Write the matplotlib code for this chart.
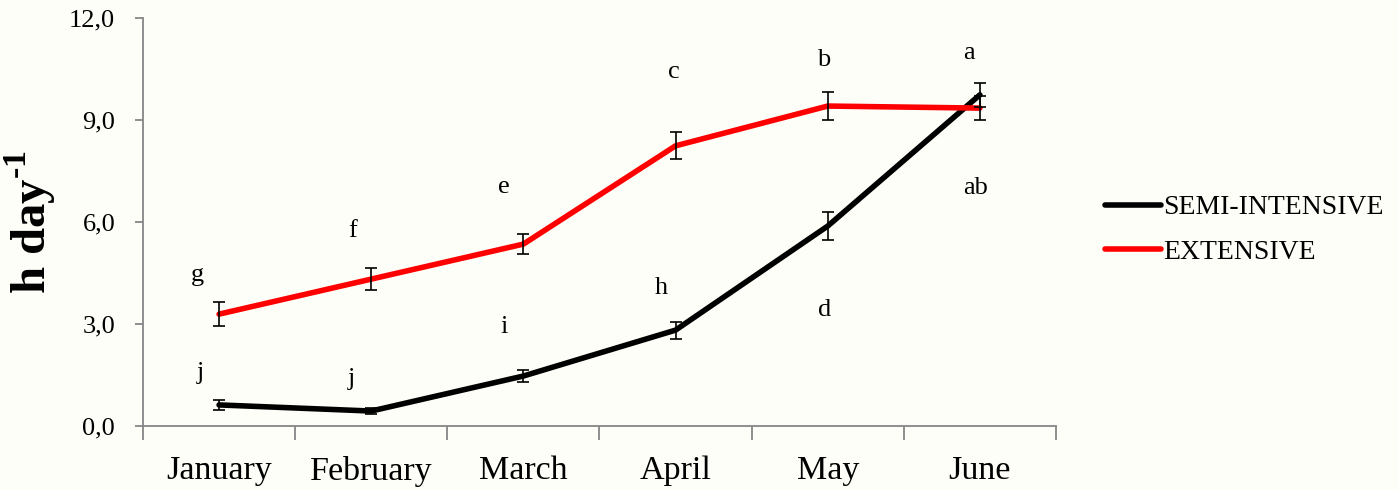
import matplotlib
matplotlib.use("Agg")
import matplotlib.pyplot as plt
from matplotlib.ticker import FuncFormatter, FixedLocator

months = ["January", "February", "March", "April", "May", "June"]
semi_vals = [0.62, 0.44, 1.47, 2.82, 5.88, 9.74]
semi_err = [0.15, 0.08, 0.17, 0.25, 0.40, 0.35]
ext_vals = [3.29, 4.32, 5.35, 8.24, 9.41, 9.35]
ext_err = [0.35, 0.32, 0.30, 0.40, 0.40, 0.35]
semi_letters = ["j", "j", "i", "h", "d", "ab"]
semi_letter_y = [1.56, 1.38, 2.91, 4.06, 3.41, 7.00]
ext_letters = ["g", "f", "e", "c", "b", "a"]
ext_letter_y = [4.44, 5.74, 7.03, 10.41, 10.76, 10.97]
yticks = [0, 3, 6, 9, 12]

BG = "#FEFEF8"
plt.rcParams["font.family"] = ["Liberation Serif", "DejaVu Serif"]
plt.rcParams["mathtext.fontset"] = "custom"
plt.rcParams["mathtext.rm"] = "Liberation Serif"
plt.rcParams["mathtext.bf"] = "Liberation Serif:bold"

fig = plt.figure(figsize=(13.99, 4.9), dpi=100, facecolor=BG)
ax = fig.add_axes([0.1022, 0.1306, 0.6526, 0.8327], facecolor=BG)

x = list(range(len(months)))
ax.plot(x, semi_vals, color="black", lw=4.0, solid_capstyle="round", label="SEMI-INTENSIVE", zorder=3)
ax.plot(x, ext_vals, color="#FF0000", lw=4.0, solid_capstyle="round", label="EXTENSIVE", zorder=4)
ax.errorbar(x, semi_vals, yerr=semi_err, fmt="none", ecolor="black", elinewidth=1.2, capsize=4.5, capthick=1.2, zorder=5)
ax.errorbar(x, ext_vals, yerr=ext_err, fmt="none", ecolor="black", elinewidth=1.2, capsize=4.5, capthick=1.2, zorder=5)

semi_dx = [-0.125, -0.13, -0.125, -0.09, -0.02, -0.03]
ext_dx = [-0.14, -0.125, -0.125, -0.01, -0.03, -0.07]
for i in x:
    ax.text(i + semi_dx[i], semi_letter_y[i], semi_letters[i], ha="center", va="center", fontsize=19)
    ax.text(i + ext_dx[i], ext_letter_y[i], ext_letters[i], ha="center", va="center", fontsize=19)

ax.set_xlim(-0.5, len(months) - 0.5)
ax.set_ylim(0, 12)
ax.set_yticks(yticks)
ax.yaxis.set_major_formatter(FuncFormatter(lambda v, p: f"{v:.1f}".replace(".", ",")))
ax.set_xticks(x)
ax.set_xticklabels(months, fontsize=24.5)
ax.xaxis.set_minor_locator(FixedLocator([i - 0.5 for i in range(len(months) + 1)]))
ax.tick_params(axis="x", which="major", length=0, pad=21.5)
ax.tick_params(axis="x", which="minor", length=10, width=1.3, color="#868686", direction="out")
ax.tick_params(axis="y", length=6, width=1.3, color="#868686", direction="out", labelsize=19, pad=14)

for s in ["top", "right"]:
    ax.spines[s].set_visible(False)
for s in ["left", "bottom"]:
    ax.spines[s].set_color("#868686")
    ax.spines[s].set_linewidth(1.3)

ax.set_ylabel(r"h day$^{\mathbf{\text{-}1}}$", fontsize=35, fontweight="bold", labelpad=8)

leg = fig.legend(loc="upper left", bbox_to_anchor=(0.782, 0.625), frameon=False, fontsize=20,
                 handlelength=2.0, handletextpad=0.1, labelspacing=0.7, borderaxespad=0)
for line in leg.get_lines():
    line.set_linewidth(4)

fig.savefig("out.png", dpi=100, facecolor=BG)
